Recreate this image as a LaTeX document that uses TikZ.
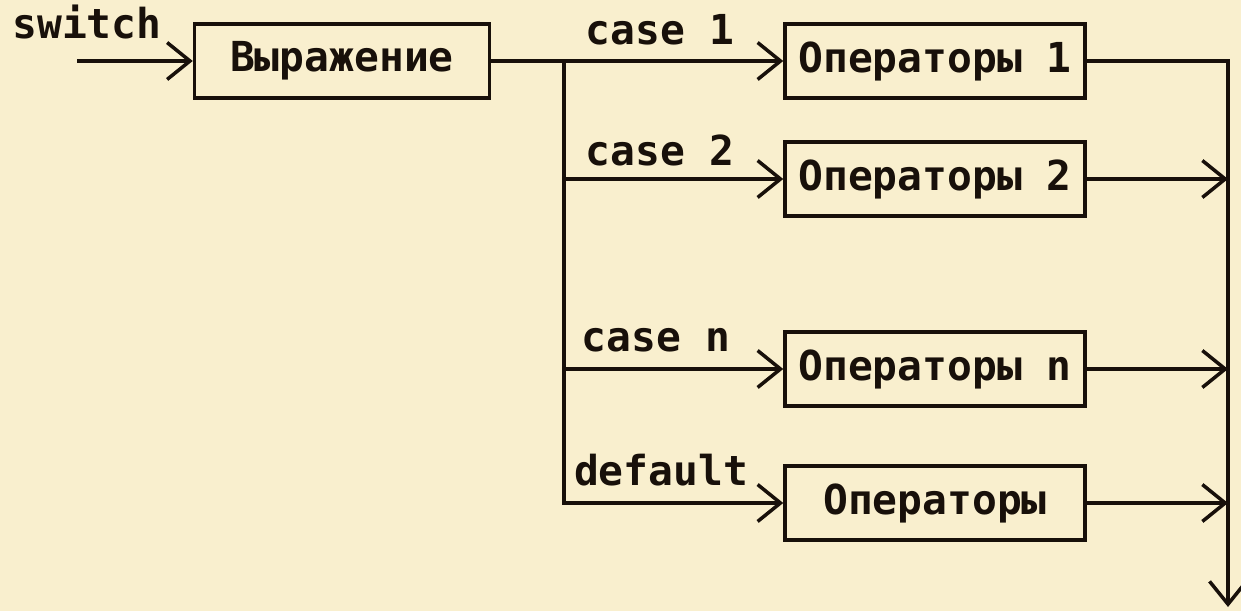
\documentclass[tikz,border=0pt]{standalone}
\usepackage{fontspec}
\setmonofont{DejaVu Sans Mono}
\usetikzlibrary{arrows.meta}
\definecolor{bg}{RGB}{249,239,206}
\definecolor{ink}{RGB}{24,16,10}
\begin{document}
\begin{tikzpicture}[x=0.02cm,y=-0.02cm,
  every node/.style={font=\ttfamily\bfseries\fontsize{23.5pt}{26pt}\selectfont, text=ink},
  box/.style={draw=ink, line width=2pt, minimum width=6cm, minimum height=1.48cm, inner sep=0pt},
  lbl/.style={inner sep=0pt},
  conn/.style={draw=ink, line width=2pt},
  arr/.style={conn, -{Straight Barb[length=13pt,width=21pt,line width=2pt]}}]
\fill[bg] (0,0) rectangle (1241,611);
\useasboundingbox (0,0) rectangle (1241,611);

\node[box, minimum width=5.9cm] (e) at (342,61) {Выражение};
\node[box] (b1) at (935,61) {Операторы 1};
\node[box] (b2) at (935,179) {Операторы 2};
\node[box] (bn) at (935,369) {Операторы n};
\node[box] (bd) at (935,503) {Операторы};

\node[lbl] (ls) at (87,22) {switch};
\node[lbl] (l1) at (660,30) {case 1};
\node[lbl] (l2) at (660,150) {case 2};
\node[lbl] (ln) at (656,340) {case n};
\node[lbl] (ld) at (661,470) {default};

\coordinate (s) at (77,61);
\coordinate (j1) at (564,61);
\coordinate (j2) at (564,179);
\coordinate (jn) at (564,369);
\coordinate (r2) at (1228,179);
\coordinate (rn) at (1228,369);
\coordinate (rd) at (1228,503);
\coordinate (rend) at (1228,607);

\draw[arr] (s) -- (e.west);
\draw[arr] (e.east) -- (b1.west);
\draw[arr] (j1) |- (bd.west);
\draw[arr] (j2) -- (b2.west);
\draw[arr] (jn) -- (bn.west);
\draw[arr] (b1.east) -| (rend);
\draw[arr] (b2.east) -- (r2);
\draw[arr] (bn.east) -- (rn);
\draw[arr] (bd.east) -- (rd);
\end{tikzpicture}
\end{document}
